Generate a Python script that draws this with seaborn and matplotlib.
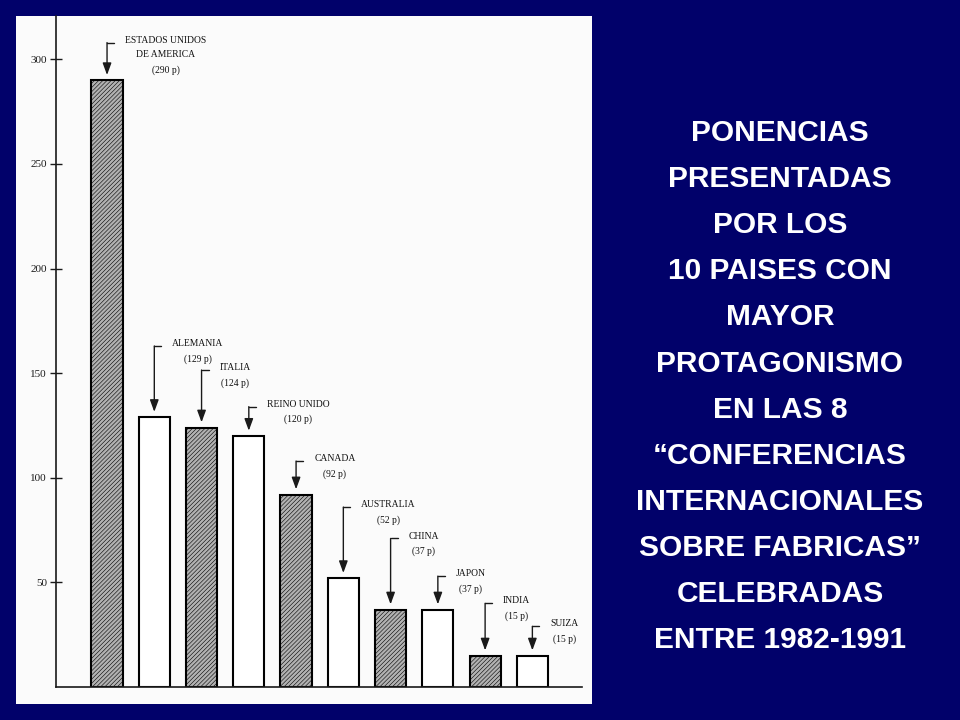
import matplotlib
matplotlib.use("Agg")
import matplotlib.pyplot as plt
import seaborn as sns
from matplotlib.patches import Rectangle

# Data
countries = ["ESTADOS UNIDOS\nDE AMERICA", "ALEMANIA", "ITALIA", "REINO UNIDO", "CANADA",
             "AUSTRALIA", "CHINA", "JAPON", "INDIA", "SUIZA"]
ponencias = [290, 129, 124, 120, 92, 52, 37, 37, 15, 15]
y_ticks = [50, 100, 150, 200, 250, 300]
title_lines = ["PONENCIAS", "PRESENTADAS", "POR LOS", "10 PAISES CON", "MAYOR",
               "PROTAGONISMO", "EN LAS 8", "\u201cCONFERENCIAS", "INTERNACIONALES",
               "SOBRE FABRICAS\u201d", "CELEBRADAS", "ENTRE 1982-1991"]

# layout: how far above each bar the label arrow starts (data units)
arrow_len = [18, 34, 27.5, 14, 16, 34, 34, 16, 25, 14]

sns.set_style("white")
plt.rcParams["hatch.linewidth"] = 0.4
navy = "#01016a"

fig = plt.figure(figsize=(9.6, 7.2), dpi=100, facecolor=navy)
fig.patches.append(Rectangle((16 / 960, 16 / 720), 576 / 960, 688 / 720,
                             transform=fig.transFigure, facecolor="#fbfbfb",
                             edgecolor="none", zorder=-1))

ax = fig.add_axes([56 / 960, 33 / 720, 526 / 960, 671 / 720])
ax.set_facecolor("none")
ax.set_zorder(2)

sns.barplot(x=list(range(len(ponencias))), y=ponencias, width=0.66, color="white",
            edgecolor="black", linewidth=1.5, ax=ax)
for i, bar in enumerate(ax.patches):
    if i % 2 == 0:
        bar.set_facecolor("#b2b2b2")
        bar.set_hatch("////////")

ax.set_xlim(-1.08, 10.05)
ax.set_ylim(0, 320.7)
ax.set_yticks(y_ticks)
ax.set_yticklabels([str(t) for t in y_ticks], family="Liberation Serif", fontsize=8)
ax.tick_params(axis="y", left=True, direction="inout", length=9, width=1, pad=2,
               colors="#1a1a1a")
ax.set_xticks([])
ax.set_xlabel("")
ax.set_ylabel("")
for side in ["top", "right"]:
    ax.spines[side].set_visible(False)
for side in ["left", "bottom"]:
    ax.spines[side].set_color("#1a1a1a")
    ax.spines[side].set_linewidth(1.2)

# arrows with labels
for i, (name, v) in enumerate(zip(countries, ponencias)):
    top = v + arrow_len[i]
    ax.annotate("", xy=(i, v + 2.5), xytext=(i, top),
                arrowprops=dict(arrowstyle="-|>,head_length=0.6,head_width=0.22",
                                color="#1a1a1a", lw=1, shrinkA=0, shrinkB=0,
                                mutation_scale=12))
    ax.plot([i, i + 0.15], [top, top], color="#1a1a1a", lw=1)
    ax.annotate(f"{name}\n({v} p)", xy=(i, top), xytext=(13, 5), textcoords="offset points",
                ha="left", va="top", multialignment="center", linespacing=1.8,
                family="Liberation Serif", fontsize=6.9, color="#111111")

# right-hand title
for k, line in enumerate(title_lines):
    fig.text(780 / 960, 1 - (133 + 46.1 * k) / 720, line, ha="center", va="center",
             color="white", fontsize=21.5, fontweight="bold", family="Liberation Sans")

fig.savefig("out.png", dpi=100, facecolor=navy)
